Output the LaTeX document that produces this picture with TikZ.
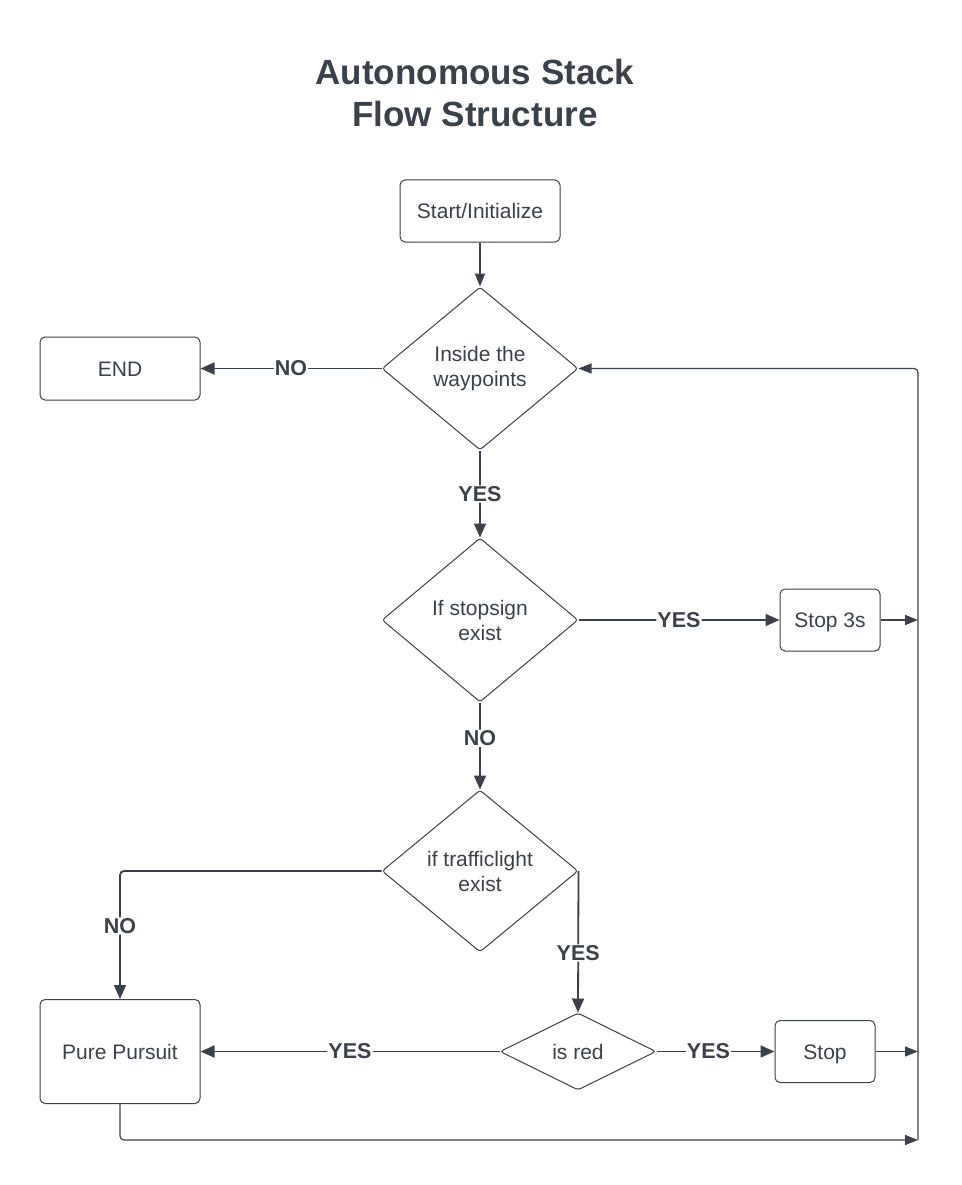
\documentclass[tikz,border=0pt]{standalone}
\usepackage{fontspec}
\setmainfont{Liberation Sans}
\usetikzlibrary{shapes.geometric,arrows.meta}
\definecolor{ink}{HTML}{3A414A}
\newcommand{\bodyfont}{\fontsize{21}{25}\selectfont}
\newcommand{\labelfont}{\fontsize{21.5}{25}\selectfont\bfseries}
\newcommand{\titlefont}{\fontsize{35}{42}\selectfont\bfseries}

\begin{document}
\begin{tikzpicture}[x=1pt,y=-1pt,
  box/.style={draw=ink, line width=1pt, rounded corners=5pt, fill=white,
    text=ink, font=\bodyfont, inner sep=0pt, align=center,
    text height=15pt, text depth=0pt},
  decision/.style={diamond, draw=ink, line width=1pt, rounded corners=3pt,
    fill=white, text=ink, font=\bodyfont, inner sep=0pt, align=center},
  flow/.style={draw=ink, line width=1.8pt, rounded corners=4pt,
    -{Triangle[length=14pt,width=12pt]}},
  link/.style={draw=ink, line width=1.2pt, rounded corners=4pt,
    -{Triangle[length=13pt,width=10pt]}},
  lbl/.style={fill=white, inner sep=1pt, text=ink, font=\labelfont},
]
\useasboundingbox (0,0) rectangle (961,1185);

% title
\node[text=ink, font=\titlefont, align=center] (title) at (475,93)
  {Autonomous Stack\\Flow Structure};

% process boxes
\node[box, minimum width=160pt, minimum height=62pt] (start) at (480,211) {Start/Initialize};
\node[box, minimum width=160pt, minimum height=63pt] (end) at (120,368.5) {END};
\node[box, minimum width=100pt, minimum height=62pt] (stopthree) at (830,620) {Stop 3s};
\node[box, minimum width=100pt, minimum height=62pt] (stop) at (825,1051.5) {Stop};
\node[box, minimum width=160pt, minimum height=104pt] (pursuit) at (120,1051.5) {Pure Pursuit};

% decisions
\node[decision, minimum width=196pt, minimum height=163pt] (inside) at (480,368.5) {Inside the\\waypoints};
\node[decision, minimum width=196pt, minimum height=164pt] (stopsign) at (480,620) {If stopsign\\exist};
\node[decision, minimum width=196pt, minimum height=162pt] (traffic) at (480,871) {if trafficlight\\exist};
\node[decision, minimum width=156pt, minimum height=77pt] (red) at (578,1051.5) {is red};

% return bus on the right
\coordinate (ppturn) at (120,1140);
\coordinate (busbot) at (918,1140);
\coordinate (bustop) at (918,368.5);

% connectors
\draw[link] (start) -- (inside.north);
\draw[flow] (inside.west) -- node[lbl]{NO} (end.east);
\draw[flow] (inside.south) -- node[lbl]{YES} (stopsign.north);
\draw[flow] (stopsign.east) -- node[lbl, pos=0.5]{YES} (stopthree.west);
\draw[flow] (stopsign.south) -- node[lbl, pos=0.41]{NO} (traffic.north);
\draw[flow] (traffic.west) -- (pursuit.north |- traffic.west)
  -- node[lbl, pos=0.43]{NO} (pursuit.north);
\draw[flow] (traffic.east) -- node[lbl, pos=0.58]{YES} (red.north);
\draw[flow] (red.west) -- node[lbl, pos=0.5]{YES} (pursuit.east);
\draw[flow] (red.east) -- node[lbl, pos=0.44]{YES} (stop.west);
\draw[link] (stopthree.east) -- (stopthree.east -| bustop);
\draw[link] (stop.east) -- (stop.east -| bustop);
\draw[link] (pursuit.south) -- (ppturn) -- (busbot);
\draw[link] (busbot) -- (bustop) -- (inside.east);
\end{tikzpicture}
\end{document}
